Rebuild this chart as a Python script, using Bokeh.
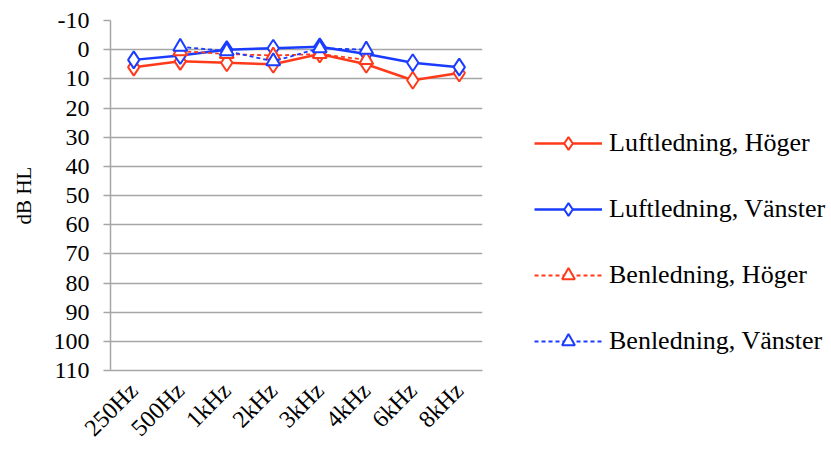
import math

from bokeh.embed import file_html
from bokeh.models import FactorRange, Legend, LegendItem, PrintfTickFormatter, Range1d
from bokeh.plotting import figure
from bokeh.resources import INLINE

# Audiogram: hearing thresholds per test frequency (dB HL)
freqs = ["250Hz", "500Hz", "1kHz", "2kHz", "3kHz", "4kHz", "6kHz", "8kHz"]
luft_hoger = [6, 4, 4.5, 5, 1.5, 5, 10.5, 8]
luft_vanster = [3.5, 2, 0, -0.5, -1, 1.5, 4.5, 6]
bone_freqs = ["500Hz", "1kHz", "2kHz", "3kHz", "4kHz"]
ben_hoger = [0.5, 1.5, 2, 1.5, 3.5]
ben_vanster = [-1, 0.5, 4, -0.5, 0]
y_ticks = list(range(-10, 111, 10))

RED = "#ff3a1a"
BLUE = "#1a3cff"
GRID = "#a6a6a6"
FONT = "Liberation Serif"

p = figure(
    frame_width=372, frame_height=350,
    x_range=FactorRange(*freqs),
    y_range=Range1d(110, -10),
    output_backend="svg", toolbar_location=None,
    min_border_left=110, min_border_top=20,
    min_border_bottom=84, min_border_right=0,
)
p.outline_line_color = None
p.background_fill_color = "white"
p.border_fill_color = "white"

p.xgrid.grid_line_color = None
p.ygrid.grid_line_color = GRID
p.ygrid.grid_line_width = 1.5
p.yaxis.ticker = y_ticks
p.yaxis.formatter = PrintfTickFormatter(format="%d")

p.yaxis.axis_line_color = GRID
p.yaxis.axis_line_width = 1.5
p.yaxis.major_tick_line_color = GRID
p.yaxis.major_tick_line_width = 1.5
p.yaxis.major_tick_out = 7
p.yaxis.major_tick_in = 0
p.yaxis.minor_tick_line_color = None
p.yaxis.major_label_standoff = 14
p.yaxis.axis_label = "dB HL"
p.yaxis.axis_label_standoff = 15
p.yaxis.axis_label_text_font = FONT
p.yaxis.axis_label_text_font_style = "normal"
p.yaxis.axis_label_text_font_size = "21px"
p.yaxis.axis_label_text_color = "black"

p.xaxis.axis_line_color = GRID
p.xaxis.axis_line_width = 1.5
p.xaxis.major_tick_line_color = None
p.xaxis.minor_tick_line_color = None
p.xaxis.major_label_orientation = math.pi / 4
p.xaxis.major_label_standoff = 10

for ax in (p.xaxis, p.yaxis):
    ax.major_label_text_font = FONT
    ax.major_label_text_font_size = "24px"
    ax.major_label_text_color = "black"

# Air conduction: solid lines with open diamonds
r1 = p.line(freqs, luft_hoger, line_color=RED, line_width=2.5)
m1 = p.scatter(freqs, luft_hoger, marker="diamond", size=17, line_color=RED,
               line_width=2, fill_color="white")
r2 = p.line(freqs, luft_vanster, line_color=BLUE, line_width=2.5)
m2 = p.scatter(freqs, luft_vanster, marker="diamond", size=17, line_color=BLUE,
               line_width=2, fill_color="white")

# Bone conduction: dashed lines with open triangles
r3 = p.line(bone_freqs, ben_hoger, line_color=RED, line_width=1.8, line_dash="4 3")
m3 = p.scatter(bone_freqs, ben_hoger, marker="triangle", size=14, line_color=RED,
               line_width=2, fill_color="white")
r4 = p.line(bone_freqs, ben_vanster, line_color=BLUE, line_width=1.8, line_dash="4 3")
m4 = p.scatter(bone_freqs, ben_vanster, marker="triangle", size=14, line_color=BLUE,
               line_width=2, fill_color="white")

legend = Legend(
    items=[
        LegendItem(label="Luftledning, Höger", renderers=[r1, m1]),
        LegendItem(label="Luftledning, Vänster", renderers=[r2, m2]),
        LegendItem(label="Benledning, Höger", renderers=[r3, m3]),
        LegendItem(label="Benledning, Vänster", renderers=[r4, m4]),
    ],
    location=(52, 13),
    orientation="vertical",
    glyph_width=68, glyph_height=32, label_height=32,
    spacing=34, padding=0, margin=0,
    label_standoff=7,
    label_text_font=FONT, label_text_font_size="26px", label_text_color="black",
    border_line_color=None, background_fill_alpha=0,
)
p.add_layout(legend, "right")

open("out.html", "w").write(file_html(p, INLINE))
